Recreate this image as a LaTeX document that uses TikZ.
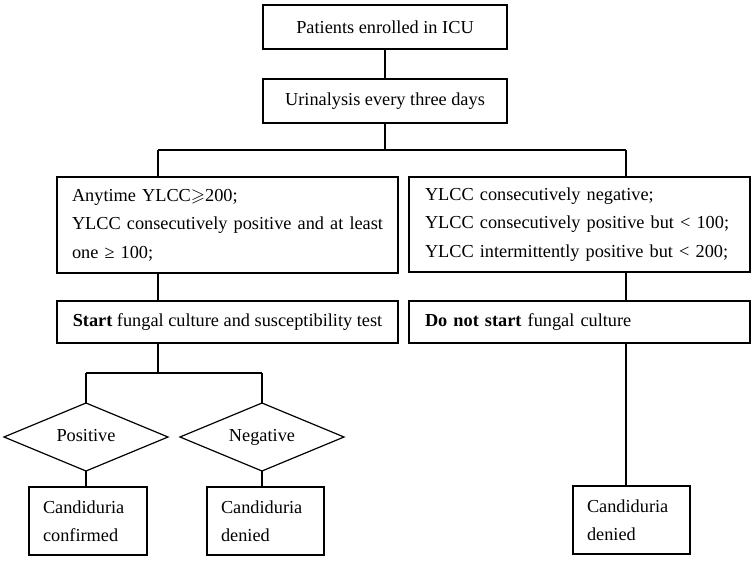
\documentclass[tikz,border=0pt]{standalone}
\usepackage{fontspec}
\usepackage{amssymb}
\setmainfont{Liberation Serif}
\usetikzlibrary{shapes.geometric}
\begin{document}
\begin{tikzpicture}[x=1pt,y=-1pt,
  every node/.style={font=\fontsize{18.3}{28.5}\selectfont},
  box/.style={draw, line width=1.2pt, inner ysep=0pt, outer sep=0pt},
  cbox/.style={box, inner xsep=0pt, align=center},
  lbox/.style={box, align=left},
  dia/.style={draw, line width=1.2pt, diamond, aspect=2.4, inner sep=0pt, outer sep=0pt, minimum width=164pt, minimum height=68pt, text height=13pt, text depth=4pt},
  conn/.style={line width=1.2pt}]
\useasboundingbox (0,0) rectangle (755,562);

\node[cbox, minimum width=244pt, minimum height=44pt] (b1) at (385,27) {Patients enrolled in ICU};
\node[cbox, minimum width=244pt, minimum height=44pt] (b2) at (385,101) {Urinalysis every three days};

\node[lbox, inner xsep=15pt, text width=311pt, minimum height=96pt] (c1) at (227.5,225)
  {\mbox{Anytime YLCC$\geqslant$200;}\\\mbox{YLCC consecutively positive and at least}\\\mbox{one ≥ 100;}};
\node[lbox, inner xsep=16pt, text width=309pt, minimum height=95pt] (c2) at (579.5,224.5)
  {\mbox{YLCC consecutively negative;}\\\mbox{YLCC consecutively positive but < 100;}\\\mbox{YLCC intermittently positive but < 200;}};

\node[cbox, minimum width=341pt, minimum height=42pt] (s1) at (227.5,322) {\textbf{Start} fungal culture and susceptibility test};
\node[lbox, inner xsep=16pt, text width=309pt, minimum height=42pt] (s2) at (579.5,322) {\mbox{\textbf{Do not start} fungal culture}};

\node[dia] (d1) at (86,437) {Positive};
\node[dia] (d2) at (262,437) {Negative};

\node[lbox, inner xsep=14pt, text width=90pt, minimum height=68pt] (e1) at (88,521) {Candiduria\\confirmed};
\node[lbox, inner xsep=14pt, text width=89pt, minimum height=68pt] (e2) at (265.5,521) {Candiduria\\denied};
\node[lbox, inner xsep=14pt, text width=89pt, minimum height=68pt] (e3) at (631.5,520) {Candiduria\\denied};

\coordinate (jL) at (158,150);
\coordinate (jR) at (626,150);
\coordinate (k) at (158,373);
\coordinate (kL) at (86,373);
\coordinate (kR) at (262,373);

\draw[conn] (b1) -- (b2);
\draw[conn] (b2) -- (b2 |- jL);
\draw[conn] (jL) -- (jR);
\draw[conn] (jL) -- (jL |- c1.north);
\draw[conn] (jR) -- (jR |- c2.north);
\draw[conn] (c1.south -| jL) -- (s1.north -| jL);
\draw[conn] (c2.south -| jR) -- (s2.north -| jR);
\draw[conn] (s1.south -| k) -- (k);
\draw[conn] (kL) -- (kR);
\draw[conn] (kL) -- (d1.north);
\draw[conn] (kR) -- (d2.north);
\draw[conn] (d1.south) -- (d1.south |- e1.north);
\draw[conn] (d2.south) -- (d2.south |- e2.north);
\draw[conn] (s2.south -| jR) -- (e3.north -| jR);
\end{tikzpicture}
\end{document}
